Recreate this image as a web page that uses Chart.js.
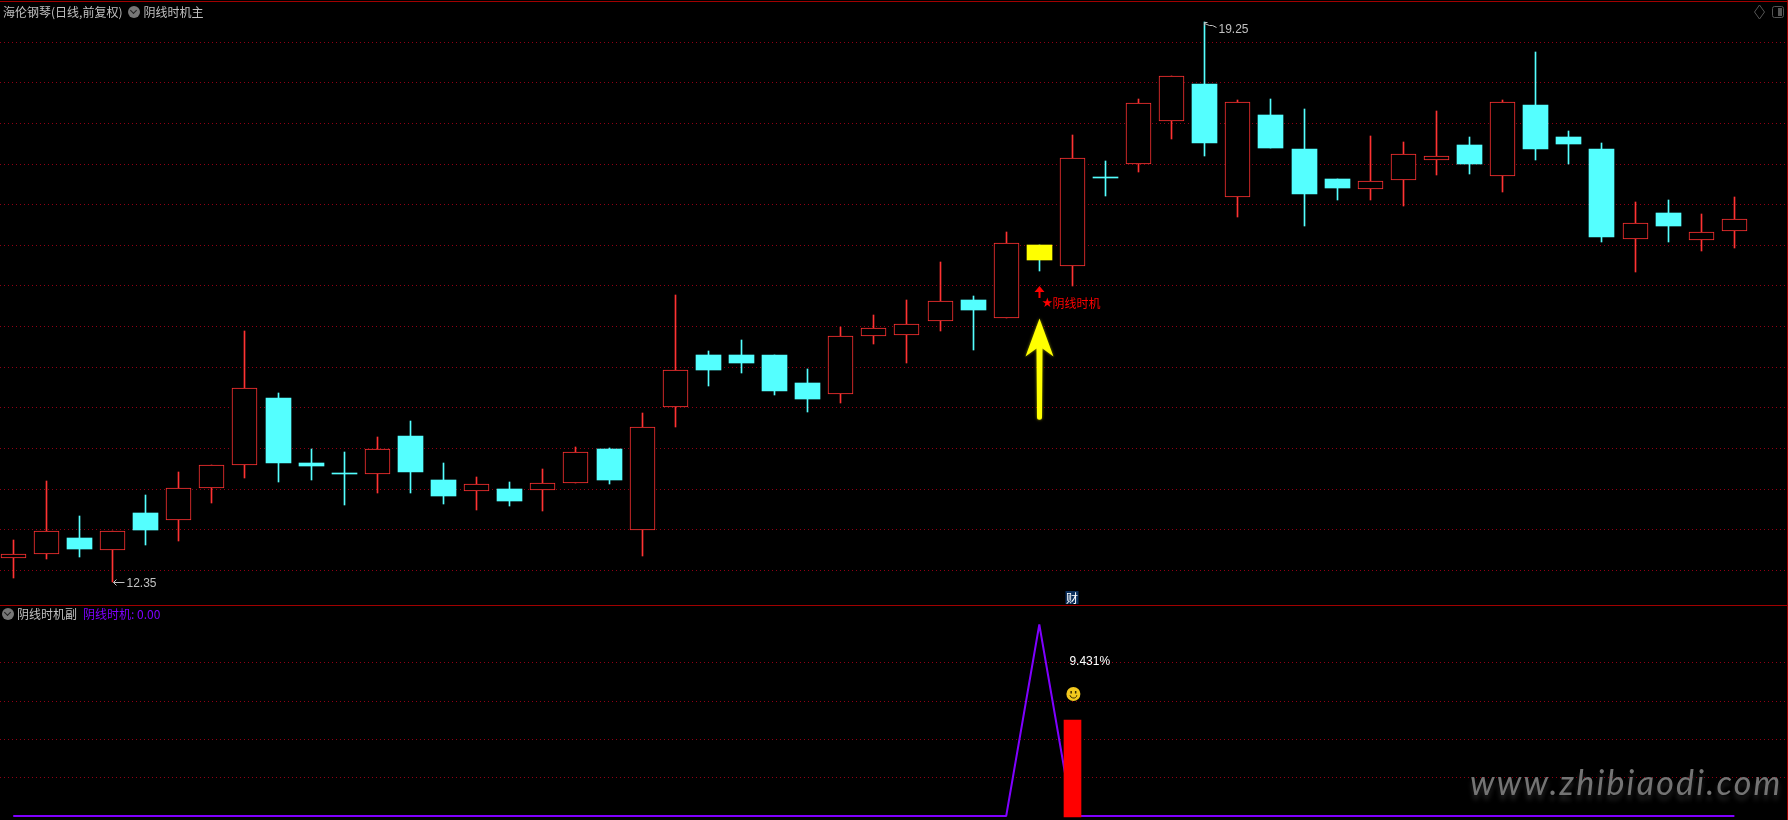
<!DOCTYPE html>
<html lang="zh-CN">
<head>
  <meta charset="UTF-8">
  <title>阴线时机</title>
  <script src="https://cdn.jsdelivr.net/npm/chart.js"></script>
  <style>
    html, body { margin: 0; background: #000; }
    body { position: relative; width: 1788px; height: 820px; overflow: hidden; font: 12px "Noto Sans CJK SC", sans-serif; }
    canvas { position: absolute; left: 0; }
    #mainChart { top: 0; }
    #subChart { top: 606px; }
    .rule { position: absolute; background: #a00000; }
    .head { position: absolute; left: 3px; line-height: 14px; color: #c0c0c0; white-space: nowrap; display: flex; align-items: center; }
    .dot { width: 12px; height: 12px; border-radius: 50%; background: #777; margin: 0 3px 0 6px; position: relative; flex: none; }
    .dot::after { content: ""; position: absolute; left: 3px; top: 2px; width: 4px; height: 4px; border: solid #222; border-width: 0 1.5px 1.5px 0; transform: rotate(45deg); }
    #watermark { position: absolute; left: 1470px; top: 761px; font: italic 34px Lato, sans-serif; letter-spacing: 2.2px; color: #747474; text-shadow: 0 5px 5px rgba(70, 70, 70, .55); white-space: nowrap; }
    #corner { position: absolute; left: 1752px; top: 4px; }
  </style>
</head>
<body>
  <canvas id="mainChart" width="1788" height="605"></canvas>
  <canvas id="subChart" width="1788" height="214"></canvas>

  <div class="rule" style="left:0;top:1px;width:1788px;height:1px"></div>
  <div class="rule" style="left:0;top:605px;width:1788px;height:1px"></div>
  <div class="rule" style="left:1787px;top:0;width:1px;height:820px"></div>

  <div class="head" style="top:5px">海伦钢琴(日线,前复权)<span class="dot"></span>阴线时机主</div>
  <div class="head" style="top:607px;left:-4px"><span class="dot"></span>阴线时机副<span style="color:#7f00ff;margin-left:6px">阴线时机: 0.00</span></div>
  <div id="watermark">www.zhibiaodi.com</div>
  <svg id="corner" width="34" height="16" fill="none" stroke="#555">
    <path d="M7.5 1 L12.5 8 L7.5 15 L2.5 8 Z"/>
    <rect x="20.5" y="2.5" width="11" height="11" rx="2"/>
    <rect x="26" y="4" width="4" height="8" fill="#555" stroke="none"/>
  </svg>

  <script>
    // Daily candles, oldest first
    const opens = [12.65, 12.70, 12.90, 12.75, 13.20, 13.12, 13.51, 13.80, 14.62, 13.82, 13.69, 13.68, 14.15, 13.61, 13.47, 13.50, 13.49, 13.57, 13.99, 13.00, 14.51, 15.15, 15.15, 15.15, 14.81, 14.67, 15.38, 15.40, 15.57, 15.83, 15.60, 16.50, 16.25, 17.33, 17.50, 18.03, 18.49, 17.09, 18.10, 17.69, 17.32, 17.20, 17.31, 17.55, 17.74, 17.36, 18.23, 17.83, 17.69, 16.58, 16.90, 16.57, 16.68];
    const closes = [12.70, 12.98, 12.76, 12.98, 13.00, 13.51, 13.80, 14.75, 13.82, 13.78, 13.69, 13.99, 13.71, 13.41, 13.56, 13.35, 13.57, 13.95, 13.61, 14.26, 14.97, 14.97, 15.05, 14.71, 14.61, 15.38, 15.48, 15.53, 15.82, 15.70, 16.53, 16.32, 17.57, 17.33, 18.25, 18.58, 17.76, 18.27, 17.70, 17.13, 17.21, 17.29, 17.62, 17.60, 17.50, 18.26, 17.69, 17.75, 16.60, 16.78, 16.74, 16.67, 16.83];
    const highs = [12.87, 13.60, 13.17, 12.98, 13.43, 13.71, 13.80, 15.45, 14.68, 13.99, 13.96, 14.14, 14.34, 13.82, 13.65, 13.59, 13.75, 14.02, 14.00, 14.44, 15.89, 15.20, 15.33, 15.15, 14.98, 15.49, 15.64, 15.83, 16.29, 15.88, 16.66, 16.50, 17.86, 17.54, 18.30, 18.58, 19.25, 18.29, 18.30, 18.18, 17.32, 17.85, 17.77, 18.15, 17.83, 18.29, 18.88, 17.91, 17.76, 17.03, 17.06, 16.89, 17.10];
    const lows = [12.40, 12.64, 12.66, 12.35, 12.81, 12.86, 13.33, 13.64, 13.59, 13.61, 13.30, 13.45, 13.45, 13.32, 13.24, 13.29, 13.23, 13.57, 13.56, 12.68, 14.26, 14.77, 14.93, 14.66, 14.45, 14.56, 15.29, 15.05, 15.45, 15.21, 15.60, 16.18, 16.00, 17.11, 17.40, 17.81, 17.60, 16.85, 17.70, 16.74, 17.06, 17.06, 16.98, 17.37, 17.38, 17.16, 17.55, 17.50, 16.54, 16.17, 16.54, 16.43, 16.47];

    // Lower panel: the signal line and the single red bar
    const signalLine = [0, 0, 0, 0, 0, 0, 0, 0, 0, 0, 0, 0, 0, 0, 0, 0, 0, 0, 0, 0, 0, 0, 0, 0, 0, 0, 0, 0, 0, 0, 0, 1, 0, 0, 0, 0, 0, 0, 0, 0, 0, 0, 0, 0, 0, 0, 0, 0, 0, 0, 0, 0, 0];
    const signalBar = [null, null, null, null, null, null, null, null, null, null, null, null, null, null, null, null, null, null, null, null, null, null, null, null, null, null, null, null, null, null, null, null, 0.5, null, null, null, null, null, null, null, null, null, null, null, null, null, null, null, null, null, null, null, null];

    // Dotted grid levels
    const priceTicks = [19, 18.5, 18, 17.5, 17, 16.5, 16, 15.5, 15, 14.5, 14, 13.5, 13, 12.5];
    const signalTicks = [0.8, 0.6, 0.4, 0.2];

    // Marked candles and overlay anchors, in data units
    const signalIndex = 31;
    const barIndex = 32;
    const arrowTipPrice = 15.60;
    const arrowEndPrice = 14.36;
    const markerPrice = 16.00;
    const markerTextPrice = 15.78;
    const percentLabel = '9.431%';
    const percentLevel = 0.805;
    const smileyLevel = 0.637;

    const UP = '#ff3232';
    const DOWN = '#54ffff';
    const GRID = '#900014';
    const slots = opens.map((_, i) => i);
    const isUp = i => closes[i] > opens[i];

    // The terminal draws on whole pixels, so snap the bars before they paint
    const snapBars = {
      id: 'snapBars',
      beforeDatasetDraw(chart, args) {
        if (args.meta.type !== 'bar') return;
        args.meta.data.forEach(el => {
          el.x = Math.floor(el.x) + 0.5;
          el.y = Math.round(el.y);
          el.base = Math.round(el.base);
        });
      }
    };

    const flatX = {
      type: 'linear', display: false, offset: false, min: -0.4, max: 53.62
    };

    function gridY(min, max, ticks) {
      return {
        min, max,
        afterBuildTicks: s => { s.ticks = ticks.map(value => ({ value })); },
        afterFit: s => { s.width = 0; },
        ticks: { display: false },
        border: { display: false, dash: [1, 3] },
        grid: { color: GRID, drawTicks: false, tickLength: 0 }
      };
    }

    const commonOptions = {
      responsive: false,
      animation: false,
      events: [],
      layout: { padding: 0 },
      plugins: { legend: { display: false }, tooltip: { enabled: false } }
    };

    // Labels, arrows and the rest of the overlay on the price panel
    const mainOverlay = {
      id: 'mainOverlay',
      afterDatasetsDraw(chart) {
        const { ctx, scales: { x, y } } = chart;
        ctx.save();
        ctx.textBaseline = 'middle';

        // low and high labels
        const hi = highs.indexOf(Math.max(...highs));
        const lo = lows.indexOf(Math.min(...lows));
        ctx.strokeStyle = '#c0c0c0';
        ctx.fillStyle = '#c0c0c0';
        ctx.lineWidth = 1;
        ctx.font = '12px "Liberation Sans", sans-serif';
        const hx = Math.floor(x.getPixelForValue(hi)) + 0.5, hy = Math.round(y.getPixelForValue(highs[hi])) + 0.5;
        ctx.beginPath();
        ctx.moveTo(hx, hy); ctx.lineTo(hx + 3, hy);
        ctx.moveTo(hx, hy); ctx.lineTo(hx, hy + 3);
        ctx.moveTo(hx, hy + 1); ctx.lineTo(hx + 5, hy + 3); ctx.lineTo(hx + 8, hy + 3); ctx.lineTo(hx + 12, hy + 5);
        ctx.stroke();
        ctx.fillText(highs[hi].toFixed(2), hx + 14, hy + 7);
        const lx = Math.floor(x.getPixelForValue(lo)) + 0.5, ly = Math.round(y.getPixelForValue(lows[lo])) + 0.5;
        ctx.beginPath();
        ctx.moveTo(lx + 1, ly); ctx.lineTo(lx + 12, ly);
        ctx.moveTo(lx + 1, ly); ctx.lineTo(lx + 4, ly - 3);
        ctx.moveTo(lx + 1, ly); ctx.lineTo(lx + 4, ly + 3);
        ctx.stroke();
        ctx.fillText(lows[lo].toFixed(2), lx + 14, ly + 1);

        // small red marker with its text
        const sx = Math.floor(x.getPixelForValue(signalIndex)) + 0.5;
        const my = y.getPixelForValue(markerPrice);
        ctx.fillStyle = '#ff0000';
        ctx.beginPath();
        ctx.moveTo(sx, my); ctx.lineTo(sx + 5, my + 6); ctx.lineTo(sx + 1, my + 6); ctx.lineTo(sx + 1, my + 12);
        ctx.lineTo(sx - 1, my + 12); ctx.lineTo(sx - 1, my + 6); ctx.lineTo(sx - 5, my + 6);
        ctx.closePath();
        ctx.fill();
        const ty = y.getPixelForValue(markerTextPrice);
        ctx.font = '13px "DejaVu Sans", sans-serif';
        ctx.fillText('★', sx + 2, ty);
        ctx.font = '12px "Noto Sans CJK SC", sans-serif';
        ctx.fillText('阴线时机', sx + 13, ty);

        // big yellow arrow
        const tip = y.getPixelForValue(arrowTipPrice), end = y.getPixelForValue(arrowEndPrice);
        ctx.fillStyle = '#ffff00';
        ctx.shadowColor = 'rgba(255, 255, 0, .55)';
        ctx.shadowBlur = 3;
        ctx.beginPath();
        ctx.moveTo(sx, tip);
        ctx.lineTo(sx + 14, tip + 38);
        ctx.lineTo(sx + 3, tip + 30);
        ctx.lineTo(sx + 2.5, end - 2);
        ctx.arc(sx, end - 2, 2.5, 0, Math.PI);
        ctx.lineTo(sx - 3, tip + 30);
        ctx.lineTo(sx - 14, tip + 38);
        ctx.closePath();
        ctx.fill();
        ctx.shadowBlur = 0;

        // badge on the panel border
        const bx = Math.floor(x.getPixelForValue(barIndex)) + 0.5;
        ctx.fillStyle = '#0b2f5c';
        ctx.fillRect(bx - 7, chart.height - 14, 13, 13);
        ctx.fillStyle = '#ffffff';
        ctx.textAlign = 'center';
        ctx.font = '12px "Noto Sans CJK SC", sans-serif';
        ctx.fillText('财', bx - 0.5, chart.height - 7);
        ctx.restore();
      }
    };

    // Percentage text and smiley above the red bar
    const subOverlay = {
      id: 'subOverlay',
      afterDatasetsDraw(chart) {
        const { ctx, scales: { x, y } } = chart;
        const bx = x.getPixelForValue(barIndex);
        ctx.save();
        ctx.textBaseline = 'middle';
        ctx.fillStyle = '#ffffff';
        ctx.font = '12px "Liberation Sans", sans-serif';
        ctx.fillText(percentLabel, bx - 3, y.getPixelForValue(percentLevel));

        const cx = bx + 1, cy = y.getPixelForValue(smileyLevel);
        ctx.fillStyle = '#f2c81e';
        ctx.beginPath(); ctx.arc(cx, cy, 7, 0, Math.PI * 2); ctx.fill();
        ctx.fillStyle = '#3a2a00';
        ctx.fillRect(cx - 3, cy - 3, 1.5, 2.5);
        ctx.fillRect(cx + 1.5, cy - 3, 1.5, 2.5);
        ctx.strokeStyle = '#3a2a00';
        ctx.beginPath(); ctx.arc(cx, cy + 0.5, 3.5, 0.2, Math.PI - 0.2); ctx.stroke();
        ctx.restore();
      }
    };

    new Chart(document.getElementById('mainChart'), {
      type: 'bar',
      data: {
        datasets: [
          {
            // candle bodies
            data: slots.map(i => ({ x: i, y: [opens[i], closes[i]] })),
            order: 1,
            grouped: false,
            barThickness: 25,
            minBarLength: 1,
            borderSkipped: false,
            borderWidth: slots.map(i => isUp(i) ? 1 : 0),
            borderColor: slots.map(i => isUp(i) ? UP : DOWN),
            backgroundColor: slots.map(i => i === signalIndex ? '#ffff00' : isUp(i) ? '#000000' : DOWN)
          },
          {
            // wicks, under the bodies
            data: slots.map(i => ({ x: i, y: [lows[i], highs[i]] })),
            order: 2,
            grouped: false,
            barThickness: 1,
            borderWidth: 0,
            backgroundColor: slots.map(i => isUp(i) ? UP : DOWN)
          }
        ]
      },
      options: {
        ...commonOptions,
        scales: { x: flatX, y: gridY(12.0725, 19.5207, priceTicks) }
      },
      plugins: [snapBars, mainOverlay]
    });

    new Chart(document.getElementById('subChart'), {
      type: 'bar',
      data: {
        datasets: [
          {
            data: slots.map(i => ({ x: i, y: signalBar[i] })),
            order: 1,
            grouped: false,
            barThickness: 17,
            base: -0.005,
            backgroundColor: '#ff0000'
          },
          {
            type: 'line',
            data: slots.map(i => ({ x: i, y: signalLine[i] })),
            order: 2,
            borderColor: '#7f00ff',
            borderWidth: 2,
            borderJoinStyle: 'bevel',
            pointRadius: 0,
            tension: 0
          }
        ]
      },
      options: {
        ...commonOptions,
        scales: { x: flatX, y: gridY(-0.0209, 1.0966, signalTicks) }
      },
      plugins: [snapBars, subOverlay]
    });
  </script>
</body>
</html>
